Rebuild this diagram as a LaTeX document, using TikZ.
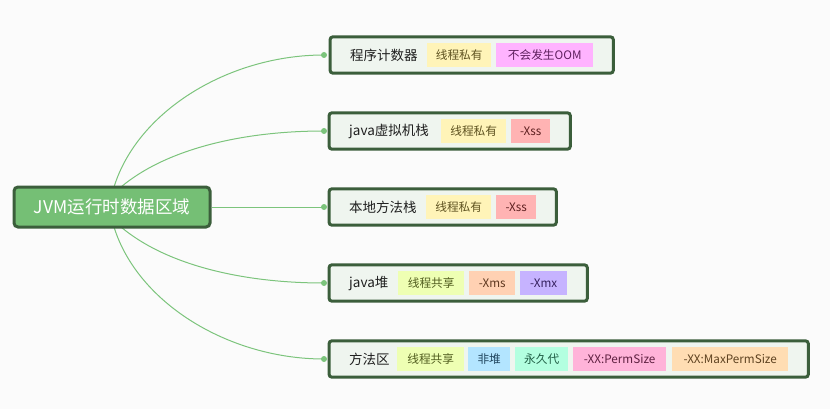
\documentclass[tikz,border=0pt]{standalone}
\usepackage{fontspec}
\setmainfont{Noto Sans CJK SC}
\usetikzlibrary{positioning,fit,backgrounds,calc}
\definecolor{bgc}{HTML}{FBFBFB}
\definecolor{conncol}{HTML}{7CC47C}
\definecolor{rootfill}{HTML}{75BF75}
\definecolor{border}{HTML}{3B5E3B}
\definecolor{boxfill}{HTML}{EFF5EF}
\definecolor{fSiyou}{HTML}{FFF4B8}\definecolor{tSiyou}{HTML}{5E5220}
\definecolor{fOOM}{HTML}{FFB3FF}\definecolor{tOOM}{HTML}{5E205E}
\definecolor{fXss}{HTML}{FFB3B3}\definecolor{tXss}{HTML}{5E2020}
\definecolor{fGong}{HTML}{EEFFB3}\definecolor{tGong}{HTML}{525E20}
\definecolor{fXms}{HTML}{FFD1B3}\definecolor{tXms}{HTML}{5E3820}
\definecolor{fXmx}{HTML}{C6B3FF}\definecolor{tXmx}{HTML}{35205E}
\definecolor{fFei}{HTML}{B3E5FF}\definecolor{tFei}{HTML}{20455E}
\definecolor{fYong}{HTML}{B3FFE0}\definecolor{tYong}{HTML}{205E45}
\definecolor{fPerm}{HTML}{FFB3D9}\definecolor{tPerm}{HTML}{5E2040}
\definecolor{fMax}{HTML}{FFDDB3}\definecolor{tMax}{HTML}{5E4220}
\begin{document}
\begin{tikzpicture}[x=1pt,y=-1pt,
  conn/.style={draw=conncol, line width=1pt},
  dotnode/.style={circle, fill=conncol, inner sep=0pt, minimum size=6pt},
  rootbox/.style={draw=border, line width=3pt, fill=rootfill, rounded corners=4pt,
    minimum width=196pt, minimum height=40pt, text=white, font=\fontsize{17.5}{20}\selectfont},
  lbl/.style={inner xsep=0pt, inner ysep=2pt, anchor=west, text=black!88, font=\fontsize{13.5}{16}\selectfont},
  tag/.style={anchor=west, inner xsep=0pt, inner ysep=0pt, minimum height=24pt, minimum width=#1, font=\fontsize{11.7}{14}\selectfont},
  tag/.default=60pt,
  childbox/.style={draw=border, line width=3pt, fill=boxfill, rounded corners=3pt, inner xsep=20pt, inner ysep=6pt}
]
\useasboundingbox (0,0) rectangle (830,409);
\begin{scope}[on background layer]
  \fill[bgc] (0,0) rectangle (830,409);
\end{scope}

% dots
\node[dotnode] (d1) at (324,55) {};
\node[dotnode] (d2) at (324,131) {};
\node[dotnode] (d3) at (324,207) {};
\node[dotnode] (d4) at (324,283) {};
\node[dotnode] (d5) at (324,359) {};

% curve starts
\coordinate (s1) at (114,187);
\coordinate (s2) at (121,187);
\coordinate (s4) at (121,227);
\coordinate (s5) at (114,227);

\draw[conn] (s1) .. controls +(24,-77) and +(-94,0) .. (d1.center);
\draw[conn] (s2) .. controls +(44,-37) and +(-84,0) .. (d2.center);
\draw[conn] (s4) .. controls +(44,37) and +(-84,0) .. (d4.center);
\draw[conn] (s5) .. controls +(24,77) and +(-94,0) .. (d5.center);

% root
\node[rootbox] (root) at (112,207) {JVM运行时数据区域};
\draw[conn] (root.east) -- (d3.center);

% child 1
\node[lbl] (l1) at (350,55) {程序计数器};
\node[tag=64pt, fill=fSiyou, text=tSiyou] (t1a) at (427,55) {线程私有};
\node[tag=97pt, fill=fOOM, text=tOOM] (t1b) at (496,55) {不会发生OOM};
\begin{scope}[on background layer]
  \node[childbox, fit=(l1)(t1a)(t1b)] (b1) {};
\end{scope}

% child 2
\node[lbl] (l2) at (349,131) {java虚拟机栈};
\node[tag=65pt, fill=fSiyou, text=tSiyou] (t2a) at (441,131) {线程私有};
\node[tag=39pt, fill=fXss, text=tXss] (t2b) at (511,131) {-Xss};
\begin{scope}[on background layer]
  \node[childbox, fit=(l2)(t2a)(t2b)] (b2) {};
\end{scope}

% child 3
\node[lbl] (l3) at (349,207) {本地方法栈};
\node[tag=65pt, fill=fSiyou, text=tSiyou] (t3a) at (426,207) {线程私有};
\node[tag=40pt, fill=fXss, text=tXss] (t3b) at (496,207) {-Xss};
\begin{scope}[on background layer]
  \node[childbox, fit=(l3)(t3a)(t3b)] (b3) {};
\end{scope}

% child 4
\node[lbl] (l4) at (349,283) {java堆};
\node[tag=66pt, fill=fGong, text=tGong] (t4a) at (398,283) {线程共享};
\node[tag=46pt, fill=fXms, text=tXms] (t4b) at (469,283) {-Xms};
\node[tag=47pt, fill=fXmx, text=tXmx] (t4c) at (520,283) {-Xmx};
\begin{scope}[on background layer]
  \node[childbox, fit=(l4)(t4a)(t4c)] (b4) {};
\end{scope}

% child 5
\node[lbl] (l5) at (349,359) {方法区};
\node[tag=67pt, fill=fGong, text=tGong] (t5a) at (397,359) {线程共享};
\node[tag=42pt, fill=fFei, text=tFei] (t5b) at (468,359) {非堆};
\node[tag=53pt, fill=fYong, text=tYong] (t5c) at (515,359) {永久代};
\node[tag=93pt, fill=fPerm, text=tPerm] (t5d) at (573,359) {-XX:PermSize};
\node[tag=116pt, fill=fMax, text=tMax] (t5e) at (672,359) {-XX:MaxPermSize};
\begin{scope}[on background layer]
  \node[childbox, fit=(l5)(t5a)(t5e)] (b5) {};
\end{scope}
\end{tikzpicture}
\end{document}
